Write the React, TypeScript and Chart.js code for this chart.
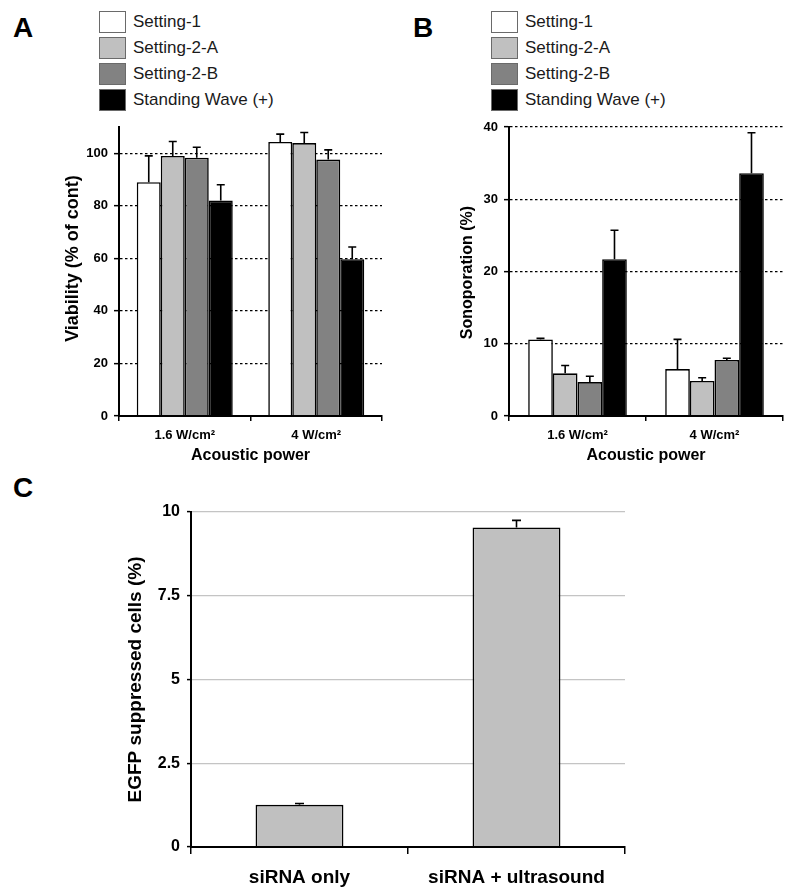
import React, { useEffect, useRef } from "react";
import { Chart, registerables } from "chart.js";

Chart.register(...registerables);

const FONT = 'Arial, "Liberation Sans", sans-serif';

// ---------- data ----------
const powerLabels = ["1.6 W/cm²", "4 W/cm²"];
const seriesNames = ["Setting-1", "Setting-2-A", "Setting-2-B", "Standing Wave (+)"];
const seriesColors = ["#ffffff", "#c0c0c0", "#828282", "#000000"];

// Panel A: viability (% of control)
const viabilitySetting1 = [89, 104.3];
const viabilitySetting2A = [99, 103.9];
const viabilitySetting2B = [98.3, 97.6];
const viabilityStanding = [82, 59.7];
const viabilityErrSetting1 = [10, 3];
const viabilityErrSetting2A = [5.5, 4];
const viabilityErrSetting2B = [4, 3.7];
const viabilityErrStanding = [6, 4.6];

// Panel B: sonoporation (%)
const sonoSetting1 = [10.6, 6.5];
const sonoSetting2A = [5.9, 4.85];
const sonoSetting2B = [4.7, 7.75];
const sonoStanding = [21.7, 33.6];
const sonoErrSetting1 = [0.15, 4.1];
const sonoErrSetting2A = [1.1, 0.45];
const sonoErrSetting2B = [0.8, 0.25];
const sonoErrStanding = [4.0, 5.6];

// Panel C: EGFP suppressed cells (%)
const egfpLabels = ["siRNA only", "siRNA + ultrasound"];
const egfpValues = [1.26, 9.54];
const egfpErrors = [0.04, 0.21];

// ---------- plugins ----------
function errorBarPlugin(errors: number[][], cap: number, width: number) {
  return {
    id: "errorBars",
    afterDatasetsDraw(chart: any) {
      const ctx = chart.ctx;
      const yScale = chart.scales.y;
      ctx.save();
      ctx.strokeStyle = "#000";
      ctx.lineWidth = width;
      chart.data.datasets.forEach((ds: any, i: number) => {
        const meta = chart.getDatasetMeta(i);
        meta.data.forEach((bar: any, j: number) => {
          const v = ds.data[j];
          const e = errors[i] ? errors[i][j] : undefined;
          if (e == null) return;
          const yTop = yScale.getPixelForValue(v + e);
          const yBar = yScale.getPixelForValue(v);
          ctx.beginPath();
          ctx.moveTo(bar.x, yBar);
          ctx.lineTo(bar.x, yTop);
          ctx.moveTo(bar.x - cap / 2, yTop);
          ctx.lineTo(bar.x + cap / 2, yTop);
          ctx.stroke();
        });
      });
      ctx.restore();
    },
  };
}

function yTitlePlugin(text: string, size: number, x: number, dy: number) {
  return {
    id: "yTitle",
    afterDraw(chart: any) {
      const { ctx, chartArea } = chart;
      const cy = (chartArea.top + chartArea.bottom) / 2 + dy;
      ctx.save();
      ctx.translate(x, cy);
      ctx.rotate(-Math.PI / 2);
      ctx.textAlign = "center";
      ctx.textBaseline = "middle";
      ctx.fillStyle = "#000";
      ctx.font = `bold ${size}px ${FONT}`;
      ctx.fillText(text, 0, 0);
      ctx.restore();
    },
  };
}

// ---------- configs ----------
function groupedConfig(
  values: number[][],
  errors: number[][],
  yMax: number,
  step: number,
  yTitle: string,
  yTitleSize: number,
  yTitleX: number,
  yTitleDy: number,
  axisWidth: number,
  rightPad: number,
  catPct: number,
  tickSize: number
) {
  return {
    type: "bar",
    data: {
      labels: powerLabels,
      datasets: seriesNames.map((name, i) => ({
        label: name,
        data: values[i],
        backgroundColor: seriesColors[i],
        borderColor: "#000",
        borderWidth: 1.6,
        borderSkipped: "bottom",
        barPercentage: 1,
        categoryPercentage: catPct,
      })),
    },
    options: {
      responsive: false,
      animation: false,
      events: [],
      layout: { padding: { left: 0, right: rightPad, top: 17, bottom: 0 } },
      plugins: { legend: { display: false }, tooltip: { enabled: false } },
      scales: {
        x: {
          grid: {
            display: true,
            drawOnChartArea: false,
            drawTicks: true,
            tickLength: 5,
            color: "#000",
            tickColor: "#000",
            lineWidth: 1.5,
            tickWidth: 1.5,
          },
          border: { display: true, color: "#000", width: 2, z: 1 },
          ticks: {
            font: { family: FONT, size: 13, weight: "bold" },
            color: "#000",
            padding: 7,
            maxRotation: 0,
          },
          title: {
            display: true,
            text: "Acoustic power",
            color: "#000",
            font: { family: FONT, size: 16, weight: "bold", lineHeight: 1 },
            padding: { top: 0, bottom: 16 },
          },
          afterFit: (s: any) => {
            s.height = 64;
          },
        },
        y: {
          min: 0,
          max: yMax,
          ticks: {
            stepSize: step,
            includeBounds: false,
            font: { family: FONT, size: tickSize, weight: "bold" },
            color: "#000",
            padding: 6,
          },
          grid: {
            color: "#000",
            lineWidth: 1.3,
            tickLength: 5,
            tickColor: "#000",
            tickWidth: 1.5,
          },
          border: { display: true, color: "#000", width: 2, z: 1, dash: [2.5, 2.5] },
          afterFit: (s: any) => {
            s.width = axisWidth;
          },
        },
      },
    },
    plugins: [errorBarPlugin(errors, 8, 1.6), yTitlePlugin(yTitle, yTitleSize, yTitleX, yTitleDy)],
  };
}

function egfpConfig() {
  return {
    type: "bar",
    data: {
      labels: egfpLabels,
      datasets: [
        {
          label: "EGFP suppressed cells",
          data: egfpValues,
          backgroundColor: "#c0c0c0",
          borderColor: "#000",
          borderWidth: 1.6,
          borderSkipped: "bottom",
          barPercentage: 0.405,
          categoryPercentage: 1,
        },
      ],
    },
    options: {
      responsive: false,
      animation: false,
      events: [],
      layout: { padding: { left: 0, right: 175, top: 52, bottom: 0 } },
      plugins: { legend: { display: false }, tooltip: { enabled: false } },
      scales: {
        x: {
          grid: {
            display: true,
            drawOnChartArea: false,
            drawTicks: true,
            tickLength: 7,
            color: "#000",
            tickColor: "#000",
            lineWidth: 1.5,
            tickWidth: 1.5,
          },
          border: { display: true, color: "#000", width: 2, z: 1 },
          ticks: {
            font: { family: FONT, size: 19, weight: "bold" },
            color: "#000",
            padding: 12,
            maxRotation: 0,
          },
          afterFit: (s: any) => {
            s.height = 49;
          },
        },
        y: {
          min: 0,
          max: 10,
          ticks: {
            stepSize: 2.5,
            font: { family: FONT, size: 16, weight: "bold" },
            color: "#000",
            padding: 7,
          },
          grid: {
            color: "#c4c4c4",
            lineWidth: 1.2,
            tickLength: 4,
            tickColor: "#000",
            tickWidth: 1.5,
          },
          border: { display: true, color: "#000", width: 2, z: 1 },
          afterFit: (s: any) => {
            s.width = 191;
          },
        },
      },
    },
    plugins: [errorBarPlugin([egfpErrors], 9, 1.6), yTitlePlugin("EGFP suppressed cells (%)", 19, 136, 0)],
  };
}

// ---------- components ----------
function ChartCanvas({ left, top, width, height, make }: any) {
  const ref = useRef<HTMLCanvasElement | null>(null);
  useEffect(() => {
    if (!ref.current) return;
    const chart = new Chart(ref.current, make());
    return () => chart.destroy();
  }, []);
  return (
    <canvas
      ref={ref}
      width={width}
      height={height}
      style={{ position: "absolute", left, top, width, height }}
    />
  );
}

function Legend({ left, top }: { left: number; top: number }) {
  return (
    <div style={{ position: "absolute", left, top }}>
      {seriesNames.map((name, i) => (
        <div key={name} style={{ display: "flex", alignItems: "center", height: 22, marginBottom: 4 }}>
          <div
            style={{
              width: 27,
              height: 22,
              boxSizing: "border-box",
              background: seriesColors[i],
              border: "1.5px solid #6a6a6a",
            }}
          />
          <span style={{ marginLeft: 7, fontSize: 17, lineHeight: "22px", color: "#1a1a1a", whiteSpace: "nowrap" }}>
            {name}
          </span>
        </div>
      ))}
    </div>
  );
}

function PanelLetter({ left, top, text }: { left: number; top: number; text: string }) {
  return (
    <div style={{ position: "absolute", left, top, fontSize: 28, lineHeight: "28px", fontWeight: "bold" }}>
      {text}
    </div>
  );
}

export default function App() {
  return (
    <div
      style={{
        position: "absolute",
        left: 0,
        top: 0,
        width: 800,
        height: 896,
        background: "#fff",
        fontFamily: FONT,
        overflow: "hidden",
      }}
    >
      <PanelLetter left={13} top={14} text="A" />
      <PanelLetter left={413} top={14} text="B" />
      <PanelLetter left={13} top={474} text="C" />
      <Legend left={99} top={11} />
      <Legend left={491} top={11} />
      <ChartCanvas
        left={0}
        top={110}
        width={400}
        height={370}
        make={() =>
          groupedConfig(
            [viabilitySetting1, viabilitySetting2A, viabilitySetting2B, viabilityStanding],
            [viabilityErrSetting1, viabilityErrSetting2A, viabilityErrSetting2B, viabilityErrStanding],
            110,
            20,
            "Viability (% of cont)",
            18,
            73,
            -13,
            119,
            18,
            0.73,
            13
          )
        }
      />
      <ChartCanvas
        left={400}
        top={110}
        width={400}
        height={370}
        make={() =>
          groupedConfig(
            [sonoSetting1, sonoSetting2A, sonoSetting2B, sonoStanding],
            [sonoErrSetting1, sonoErrSetting2A, sonoErrSetting2B, sonoErrStanding],
            40,
            10,
            "Sonoporation (%)",
            16,
            68,
            1,
            109,
            17,
            0.72,
            13
          )
        }
      />
      <ChartCanvas left={0} top={460} width={800} height={436} make={egfpConfig} />
    </div>
  );
}
